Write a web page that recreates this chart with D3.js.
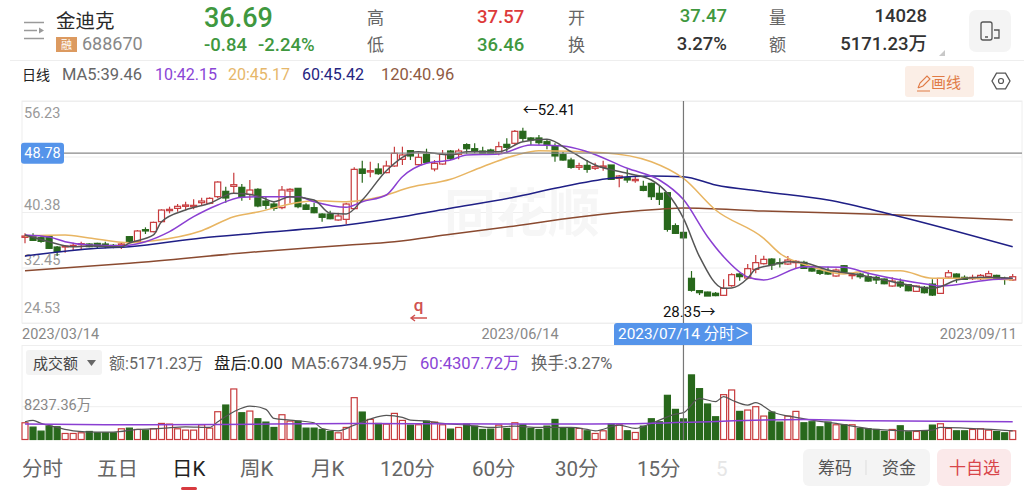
<!DOCTYPE html>
<html>
<head>
<meta charset="utf-8">
<script src="https://cdnjs.cloudflare.com/ajax/libs/d3/7.8.5/d3.min.js"></script>
<style>
html,body{margin:0;padding:0;background:#fff;overflow:hidden}
svg{display:block}
text{font-family:Roboto,"Noto Sans CJK SC",sans-serif}
</style>
</head>
<body>
<svg id="chart" width="1024" height="495"></svg>
<script>
// Daily candles for 688670, 2023/03/14 to 2023/09/11
const opens = [36.76,36.86,36.71,36.90,35.38,35.38,35.48,35.71,35.81,35.90,35.81,35.62,35.62,36.86,36.19,37.86,37.57,39.00,40.57,40.90,41.19,41.14,41.71,41.62,42.57,43.33,44.04,43.90,42.90,43.62,41.95,41.52,41.00,43.38,43.76,41.38,41.00,40.09,40.09,39.24,39.33,40.86,46.52,46.09,46.52,46.00,46.95,47.90,49.14,47.14,48.62,46.52,47.23,49.09,48.62,50.00,49.42,49.09,49.23,48.76,50.04,50.19,51.90,50.95,50.95,50.42,49.80,48.57,47.80,46.76,47.04,46.62,46.76,47.09,45.19,45.28,44.85,44.04,44.47,43.05,43.14,38.43,37.47,30.91,29.15,28.95,28.77,28.48,29.86,31.53,30.95,32.19,33.00,33.66,33.14,32.95,33.14,33.19,32.38,32.05,31.90,31.24,32.71,31.33,31.52,31.14,31.05,30.81,29.81,30.38,30.00,29.05,29.62,30.09,28.76,31.09,31.52,31.05,30.86,30.86,31.19,31.33,30.90,30.67];
const highs = [37.33,37.33,36.95,37.00,35.52,35.62,36.00,36.14,35.90,36.00,36.14,35.81,36.00,36.95,37.81,38.19,39.00,40.76,41.14,41.52,41.86,42.19,42.42,42.47,44.76,44.00,46.00,44.38,44.95,43.76,42.57,41.76,44.09,43.76,43.76,41.62,41.71,40.19,40.57,40.28,41.71,46.76,47.71,47.57,47.33,47.71,49.71,49.71,49.23,48.85,49.42,47.80,49.23,49.23,49.42,50.19,50.19,49.71,49.42,50.42,50.90,52.09,52.41,51.04,51.38,50.76,50.19,49.00,48.14,47.42,47.80,47.42,47.71,47.09,45.66,46.47,45.52,44.85,44.57,44.09,43.14,38.76,37.57,31.95,29.24,29.00,28.95,30.76,31.62,31.62,32.95,34.24,34.14,33.76,33.76,34.09,33.52,33.43,32.66,32.19,32.57,32.33,32.81,31.52,31.71,31.71,31.24,30.90,31.05,30.90,30.09,29.90,29.81,30.76,30.90,32.09,31.62,31.33,31.43,31.52,32.00,31.43,31.14,31.52];
const lows = [35.91,36.24,36.00,35.10,34.10,34.57,34.86,35.05,35.33,35.19,35.19,35.19,35.10,35.90,36.10,37.24,37.48,38.90,40.19,40.42,40.66,40.76,41.24,41.47,42.33,41.71,42.95,42.00,42.09,41.05,40.76,40.57,40.76,41.62,40.90,40.66,40.19,39.00,39.33,39.14,38.66,40.76,44.57,45.33,45.71,45.90,46.85,47.09,47.80,47.04,47.33,46.19,47.14,47.80,47.90,48.66,48.76,48.52,48.52,48.47,48.76,50.00,50.42,49.90,50.00,49.33,47.57,47.71,46.57,46.38,46.00,46.38,46.28,44.95,43.90,44.57,44.57,43.33,42.09,41.38,37.57,37.24,36.46,29.00,28.52,28.45,28.35,28.39,29.72,30.57,30.76,31.62,32.90,32.09,32.47,32.81,32.33,32.24,31.86,31.38,31.43,31.14,31.71,30.76,30.86,30.43,30.09,30.05,29.71,29.52,29.05,28.95,28.76,28.38,28.67,31.00,30.28,30.67,30.67,30.67,31.00,30.67,30.00,30.52];
const closes = [36.95,36.33,36.19,35.19,34.76,35.52,35.62,35.86,35.43,35.52,35.62,35.52,35.81,36.19,37.67,37.67,38.90,40.66,40.76,41.19,41.38,41.33,41.95,42.33,44.66,42.38,44.28,42.57,43.52,41.24,41.33,40.90,43.52,43.62,41.14,40.76,40.28,39.62,39.42,39.81,41.52,46.47,45.90,46.28,45.85,46.95,48.76,48.52,48.38,48.19,47.47,47.33,48.62,48.00,49.09,49.42,49.14,48.76,48.66,49.71,49.61,51.90,50.90,50.66,50.28,49.95,48.38,47.80,46.76,46.99,46.47,46.85,46.95,45.04,45.52,44.95,45.04,43.47,42.57,42.19,37.90,37.33,36.69,29.20,28.86,28.38,28.44,29.48,31.43,31.15,32.29,33.15,33.62,32.81,33.00,33.52,33.33,32.33,31.95,31.62,31.52,32.09,31.81,31.43,31.14,30.52,30.67,30.14,30.52,29.81,29.14,29.81,28.86,28.52,30.90,31.71,30.95,30.76,31.05,31.33,31.57,30.76,30.76,31.14];

// Turnover per day, in units of 万
const turnover = [4203,3110,2101,3362,3194,1513,1513,1681,2017,1681,1681,1681,2690,2858,2522,2353,2690,4034,3866,2690,2353,2353,3698,2858,6976,8657,12692,6724,7144,5211,4371,3026,6220,4623,4623,2858,2858,2522,2017,1681,3026,10506,6892,5043,4034,3866,6556,4791,3614,3698,4623,4371,3698,2606,3026,3866,3362,2522,2606,3614,2774,4203,3698,2774,2522,3362,5043,2774,2942,2774,2185,1513,2185,3866,3698,2185,1765,3362,5211,4455,11095,7565,5171.23,16222,12776,8909,5715,11263,12439,7060,7396,8237,5884,6892,4371,5884,7060,4203,4455,3194,4371,3698,3698,3698,2774,2690,2522,2017,2522,3446,1933,2017,2185,3614,3950,2774,2185,2185,2522,2690,2353,2017,1681,2185];

// Moving averages of price: trading-day position and level at that day
const ma5Days = [0,3,6,8,12,13,16,17,20,23,26,29,31,33,36,38,40,42,45,49,53,55,59,62,65,68,71,75,78,80,82,84,87,88,90,91,93,95,97,100,104,108,113,114,116,119,123];
const ma5Values = [37.10,36.14,35.42,35.52,35.42,35.95,37.10,38.99,40.67,41.62,43.05,42.67,41.85,42.57,42.09,40.19,40.09,42.09,46.28,48.99,48.52,48.99,48.99,50.42,50.76,48.99,47.09,45.91,44.95,43.05,39.46,34.00,29.48,29.53,30.91,32.24,32.81,33.28,33.14,32.10,31.38,30.43,29.48,29.71,30.67,31.05,30.91];
const ma10Days = [0,3,5,8,12,15,18,21,24,27,29,31,34,36,40,42,45,47,50,53,55,59,63,67,70,75,79,82,85,87,90,92,97,102,105,113,114,120,123];
const ma10Values = [37.10,36.81,36.14,35.67,35.57,36.14,37.57,39.71,41.38,42.48,42.57,42.57,42.57,41.85,41.05,41.85,42.81,45.42,47.33,47.80,48.52,48.66,49.95,49.80,48.99,46.62,44.95,42.15,36.85,34.00,31.10,30.67,32.57,32.48,31.62,29.95,29.81,30.67,30.91];
const ma20Days = [0,5,8,13,16,22,26,29,33,36,40,44,48,53,57,61,64,72,78,82,86,92,94,98,102,105,109,113,117,123];
const ma20Values = [36.95,37.10,36.67,36.00,36.28,37.71,39.71,40.38,41.52,41.99,41.85,42.48,43.90,45.05,46.85,48.45,49.13,48.85,47.56,45.17,40.67,36.62,34.48,32.57,31.53,32.00,32.00,30.91,30.91,30.67];
const ma60Days = [0,9,13,22,29,40,47,53,61,66,73,78,82,86,92,100,108,123];
const ma60Values = [34.10,35.20,35.42,36.67,37.38,38.52,39.71,40.91,42.52,43.76,45.19,45.52,45.42,44.23,43.28,42.10,40.00,35.42];
const ma120Days = [0,13,29,40,46,53,60,69,79,82,92,108,123];
const ma120Values = [32.00,33.05,34.71,35.62,36.14,37.20,38.24,39.67,40.76,40.96,40.52,40.00,39.24];

// Moving averages of turnover
const turnMa5Days = [0,1,2,4,6,9,11,14,17,20,23,24,26,28,30,31,33,36,37,39,41,43,45,47,48,50,52,55,58,61,64,68,70,71,74,76,78,81,82,84,86,87,88,90,91,93,96,98,101,106,110,113,114,117,123];
const turnMa5Values = [4455,4791,4034,3026,2185,1849,1849,2522,2774,3194,3026,4455,6976,8405,7565,5295,4875,4203,2774,2185,3614,5127,6052,5547,4875,4623,4034,3614,3026,3362,3026,3026,2522,2185,3614,2774,4034,6388,6734.95,10338,9498,10758,9918,8657,9245,6976,5547,4875,4034,2522,2185,2353,3026,2858,2185];
const turnMa60Days = [0,10,24,41,60,75,82,97,105,123];
const turnMa60Values = [3866,3698,3782,4034,3866,3950,4307.72,5043,4707,4455];

// Axis ticks and highlighted session; the second grid level carries no printed label
const priceTicks = [56.23,48.30,40.38,32.45,24.53];
const priceTickLabels = ["56.23","","40.38","32.45","24.53"];
const turnoverTick = 8237.36;
const dateIndexes = [0,62,123];
const dateLabels = ["2023/03/14","2023/06/14","2023/09/11"];
const crossDay = 82;
const crossPrice = 48.78;
const highDay = 62, lowDay = 86;

const RED = "#c73b3d", GREEN = "#28681c";
const svg = d3.select("#chart");
const x = d3.scaleLinear().domain([0, opens.length - 1]).range([25, 1012.7]);
const y = d3.scaleLinear().domain([24.53, 56.23]).range([323, 101]);
const yVol = d3.scaleLinear().domain([0, turnoverTick]).range([439.5, 406.7]);

function label(s, px, py, size, fill, opts = {}) {
  const t = svg.append("text").attr("x", px).attr("y", py).attr("font-size", size)
    .attr("fill", fill).text(s);
  if (opts.anchor) t.attr("text-anchor", opts.anchor);
  if (opts.weight) t.attr("font-weight", opts.weight);
  return t;
}

// Quote header
const hdr = svg.append("g").attr("stroke", "#9a9a9a").attr("stroke-width", 1.3).attr("fill", "none");
hdr.append("path").attr("d", "M24 22.5H44M24 38.5H44M24 30.5H37");
svg.append("path").attr("d", "M39 27.5L44 30.5L39 33.5Z").attr("fill", "#9a9a9a");
label("金迪克", 56, 28, 19.5, "#2a2a2a");
svg.append("rect").attr("x", 56).attr("y", 37).attr("width", 21).attr("height", 15).attr("fill", "#dc9a60");
label("融", 66.5, 49, 11, "#fff", {anchor: "middle"});
label("688670", 82, 50, 18, "#888");
label("36.69", 204, 27, 27, "#3f983f", {weight: 500});
label("-0.84", 204, 51, 18.5, "#3f983f", {weight: 500});
label("-2.24%", 258, 51, 18.5, "#3f983f", {weight: 500});
label("高", 367, 24, 17, "#666");
label("低", 367, 51, 17, "#666");
label("37.57", 477, 23, 18.5, "#dd3a3a", {weight: 500});
label("36.46", 477, 51, 18.5, "#3f983f", {weight: 500});
label("开", 568, 24, 17, "#666");
label("换", 568, 51, 17, "#666");
label("37.47", 727, 22, 18.5, "#3f983f", {anchor: "end", weight: 500});
label("3.27%", 727, 50, 18.5, "#333", {anchor: "end", weight: 500});
label("量", 769, 24, 17, "#666");
label("额", 769, 51, 17, "#666");
label("14028", 927, 22, 18.5, "#333", {anchor: "end", weight: 500});
label("5171.23万", 927, 50, 18.5, "#333", {anchor: "end", weight: 500});
svg.append("path").attr("d", "M945 50V56H939Z").attr("fill", "#c8c8c8");
svg.append("rect").attr("x", 969).attr("y", 10).attr("width", 42).attr("height", 42).attr("rx", 7).attr("fill", "#f4f4f4");
const phone = svg.append("g").attr("fill", "none").attr("stroke", "#555").attr("stroke-width", 1.3);
phone.append("rect").attr("x", 981).attr("y", 22).attr("width", 11).attr("height", 18).attr("rx", 2);
phone.append("path").attr("d", "M994 30H999V38H994M985 37H988");
svg.append("line").attr("x1", 10).attr("x2", 1024).attr("y1", 60.5).attr("y2", 60.5).attr("stroke", "#eee");

// Moving-average legend
label("日线", 22, 80, 14, "#222");
label("MA5:39.46", 62, 80, 16.5, "#666");
label("10:42.15", 155, 80, 16, "#8a45d6");
label("20:45.17", 228, 80, 16, "#e6b76a");
label("60:45.42", 302, 80, 16, "#25257f");
label("120:40.96", 381, 80, 16.5, "#8f5a42");

// Drawing tool and settings buttons
svg.append("rect").attr("x", 905).attr("y", 66).attr("width", 69).attr("height", 31).attr("rx", 3).attr("fill", "#fbeee6");
svg.append("path").attr("d", "M918 88L920 83L927 76L930 79L923 86L918 88M917 91H930")
  .attr("fill", "none").attr("stroke", "#e07a45").attr("stroke-width", 1.1);
label("画线", 931, 88, 15, "#e07a45");
const hexR = 9;
svg.append("path")
  .attr("d", d3.line()(d3.range(6).map(k => [1001 + hexR * Math.cos(k * Math.PI / 3), 81 + hexR * Math.sin(k * Math.PI / 3)])) + "Z")
  .attr("fill", "none").attr("stroke", "#555").attr("stroke-width", 1.3);
svg.append("circle").attr("cx", 1001).attr("cy", 81).attr("r", 2.5).attr("fill", "none").attr("stroke", "#555").attr("stroke-width", 1.2);

// Price panel frame, grid and tick labels
svg.append("rect").attr("x", 22).attr("y", 101).attr("width", 1000).attr("height", 222)
  .attr("fill", "none").attr("stroke", "#eee");
const yAxis = svg.append("g").attr("transform", "translate(22,0)")
  .call(d3.axisRight(y).tickValues(priceTicks).tickSize(1000).tickFormat((d, k) => priceTickLabels[k]));
yAxis.select(".domain").remove();
yAxis.selectAll(".tick line").attr("stroke", "#eee");
yAxis.selectAll(".tick text").attr("x", 2).attr("font-size", 14.5).attr("fill", "#999")
  .attr("font-family", null).attr("dy", (d, k) => k === 0 ? 16 : (k === 4 ? -11 : -3));

// Faint brand mark behind the candles
label("同花顺", 522, 232, 52, "#f6f6f6", {anchor: "middle", weight: 700});

// Candlesticks
const candles = svg.append("g").selectAll("g").data(d3.range(opens.length)).join("g");
const isUp = i => closes[i] >= opens[i];
const bodyW = 6;
candles.append("line")
  .attr("x1", i => x(i)).attr("x2", i => x(i))
  .attr("y1", i => y(highs[i])).attr("y2", i => y(lows[i]))
  .attr("stroke", i => isUp(i) ? RED : GREEN).attr("stroke-width", 1.2);
candles.append("rect")
  .attr("x", i => x(i) - bodyW / 2)
  .attr("width", bodyW)
  .attr("y", i => y(Math.max(opens[i], closes[i])))
  .attr("height", i => Math.max(1, Math.abs(y(opens[i]) - y(closes[i]))))
  .attr("fill", i => isUp(i) ? "#fff" : GREEN)
  .attr("stroke", i => isUp(i) ? RED : GREEN).attr("stroke-width", 1.2);

// Moving-average lines over the candles
const priceLine = d3.line().x(d => x(d[0])).y(d => y(d[1])).curve(d3.curveMonotoneX);
[[ma120Days, ma120Values, "#8a4a30"], [ma60Days, ma60Values, "#1f1f86"], [ma20Days, ma20Values, "#e8b562"],
 [ma10Days, ma10Values, "#8a3fd2"], [ma5Days, ma5Values, "#555555"]].forEach(([days, vals, col]) => {
  svg.append("path").attr("d", priceLine(days.map((d, k) => [d, vals[k]])))
    .attr("fill", "none").attr("stroke", col).attr("stroke-width", 1.5);
});

// High and low markers
label("←52.41", x(highDay), 115, 15, "#111");
label("28.35→", x(lowDay), 317, 15, "#111", {anchor: "end"});

// Red flag marker on the trading calendar
label("q", 418.5, 311, 17, "#d0514f", {anchor: "middle", weight: 500});
svg.append("path").attr("d", "M427 318H411M415 315L411 318L415 321").attr("fill", "none").attr("stroke", "#d0514f").attr("stroke-width", 1.4);

// Date axis and selected session tag
dateIndexes.forEach((d, k) => {
  label(dateLabels[k], k === 0 ? 22 : (k === 1 ? 520 : 1017), 339, 14.5, "#888",
    {anchor: k === 0 ? "start" : (k === 1 ? "middle" : "end")});
});

// Volume panel
svg.append("line").attr("x1", 22).attr("x2", 1022).attr("y1", 345.5).attr("y2", 345.5).attr("stroke", "#eee");
svg.append("line").attr("x1", 22).attr("x2", 22).attr("y1", 345).attr("y2", 440).attr("stroke", "#eee");
svg.append("line").attr("x1", 22).attr("x2", 1022).attr("y1", yVol(turnoverTick)).attr("y2", yVol(turnoverTick)).attr("stroke", "#eee");
svg.append("rect").attr("x", 26).attr("y", 350).attr("width", 76).attr("height", 25).attr("rx", 3).attr("fill", "#f3f3f3");
label("成交额", 33, 369, 15, "#444");
svg.append("path").attr("d", "M87 360H96L91.5 366Z").attr("fill", "#666");
label("额:5171.23万", 109, 369, 16, "#666");
label("盘后:0.00", 214, 369, 16.4, "#222");
label("MA5:6734.95万", 291, 369, 16.8, "#666");
label("60:4307.72万", 420, 369, 16.6, "#8a45d6");
label("换手:3.27%", 531, 369, 16.5, "#666");
label("8237.36万", 24, 410, 14.5, "#888");

svg.append("g").selectAll("rect").data(turnover).join("rect")
  .attr("x", (d, i) => x(i) - 3)
  .attr("width", 6)
  .attr("y", d => yVol(d))
  .attr("height", d => yVol(0) - yVol(d))
  .attr("fill", (d, i) => isUp(i) ? "#fff" : GREEN)
  .attr("stroke", (d, i) => isUp(i) ? RED : GREEN)
  .attr("stroke-width", 1.2);

const volLine = d3.line().x(d => x(d[0])).y(d => yVol(d[1])).curve(d3.curveMonotoneX);
svg.append("path").attr("d", volLine(turnMa5Days.map((d, k) => [d, turnMa5Values[k]])))
  .attr("fill", "none").attr("stroke", "#555").attr("stroke-width", 1.2);
svg.append("path").attr("d", volLine(turnMa60Days.map((d, k) => [d, turnMa60Values[k]])))
  .attr("fill", "none").attr("stroke", "#8a3fd2").attr("stroke-width", 1.5);

// Crosshair on the selected session
svg.append("line").attr("x1", x(crossDay)).attr("x2", x(crossDay)).attr("y1", 101).attr("y2", 440)
  .attr("stroke", "#777").attr("stroke-width", 1.2);
svg.append("line").attr("x1", 60).attr("x2", 1022).attr("y1", y(crossPrice)).attr("y2", y(crossPrice))
  .attr("stroke", "#888").attr("stroke-width", 1.3);
svg.append("rect").attr("x", 21).attr("y", y(crossPrice) - 10.5).attr("width", 43).attr("height", 21).attr("rx", 3).attr("fill", "#5594ea");
label(crossPrice.toFixed(2), 42.5, y(crossPrice) + 5, 14.5, "#fff", {anchor: "middle"});
svg.append("path").attr("d", "M614 326a3 3 0 0 1 3 -3H749a3 3 0 0 1 3 3V345H614Z").attr("fill", "#5594ea");
label("2023/07/14 分时＞", 618, 339, 15.4, "#fff");

// Period tabs
const tabNames = ["分时","五日","日K","周K","月K","120分","60分","30分","15分"];
const tabStarts = [22,97,172,240,311,380,472,555,637];
tabNames.forEach((t, k) => {
  const on = t === "日K";
  label(t, tabStarts[k], 476, 20.5, on ? "#222" : "#666");
});
label("5", 716, 476, 20.5, "#e6e6e6");
svg.append("rect").attr("x", 181).attr("y", 487).attr("width", 16).attr("height", 3).attr("rx", 1.5).attr("fill", "#d83a3f");

// Action buttons
svg.append("rect").attr("x", 803).attr("y", 449).attr("width", 127).attr("height", 37).attr("rx", 6).attr("fill", "#f4f4f4");
label("筹码", 818, 474, 17, "#555");
svg.append("line").attr("x1", 866).attr("x2", 866).attr("y1", 460).attr("y2", 475).attr("stroke", "#ddd");
label("资金", 882, 474, 17, "#555");
svg.append("rect").attr("x", 937).attr("y", 449).attr("width", 74).attr("height", 37).attr("rx", 6).attr("fill", "#fbe9ea");
label("十自选", 949, 474, 17, "#d8454a");
</script>
</body>
</html>
